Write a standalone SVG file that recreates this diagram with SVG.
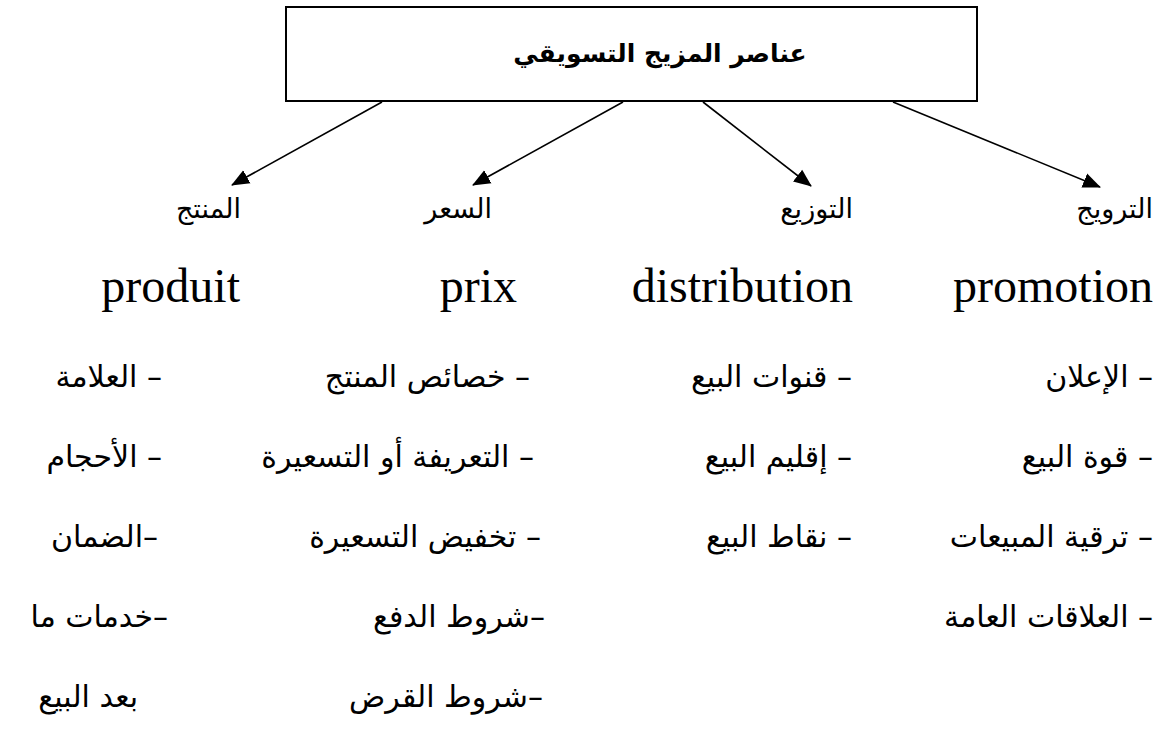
<svg xmlns="http://www.w3.org/2000/svg" width="1165" height="733" viewBox="0 0 1165 733">
<style>
.ar{font-family:"DejaVu Sans","Noto Sans",sans-serif;fill:#000}
.h{font-size:27px}
.li{font-size:30px}
.fr{font-family:"Liberation Serif",serif;font-size:48px;fill:#000}
.title{font-family:"DejaVu Sans",sans-serif;font-size:25px;font-weight:bold}
.edge{stroke:#000;stroke-width:1.6;fill:none}
</style>
<defs>
<marker id="ah" markerUnits="userSpaceOnUse" markerWidth="19" markerHeight="16" refX="17" refY="7.5" orient="auto" viewBox="0 0 19 15">
<path d="M0,0 L18,7.5 L0,15 Z" fill="#000"/>
</marker>
</defs>
<rect width="1165" height="733" fill="#fff"/>
<g id="root">
<rect x="286" y="7" width="691" height="94" fill="#fff" stroke="#000" stroke-width="2"/>
<text class="title" x="660" y="62" text-anchor="middle" direction="rtl">عناصر المزيج التسويقي</text>
</g>
<g id="connectors">
<line class="edge" x1="382" y1="102" x2="232" y2="185" marker-end="url(#ah)"/>
<line class="edge" x1="623" y1="102" x2="473" y2="185" marker-end="url(#ah)"/>
<line class="edge" x1="703" y1="102" x2="811" y2="186" marker-end="url(#ah)"/>
<line class="edge" x1="893" y1="102" x2="1100" y2="187" marker-end="url(#ah)"/>
</g>
<g id="node-produit">
<text class="ar h" x="241" y="218" direction="rtl" text-anchor="start">المنتج</text>
<text class="fr" x="240" y="302" text-anchor="end">produit</text>
<text class="ar li" x="162" y="387" direction="rtl" text-anchor="start">– العلامة</text>
<text class="ar li" x="162" y="467" direction="rtl" text-anchor="start">– الأحجام</text>
<text class="ar li" x="158" y="547" direction="rtl" text-anchor="start">–الضمان</text>
<text class="ar li" x="168" y="627" direction="rtl" text-anchor="start">–خدمات ما</text>
<text class="ar li" x="138" y="707" direction="rtl" text-anchor="start">بعد البيع</text>
</g>
<g id="node-prix">
<text class="ar h" x="492" y="218" direction="rtl" text-anchor="start">السعر</text>
<text class="fr" x="517" y="302" text-anchor="end">prix</text>
<text class="ar li" x="530" y="387" direction="rtl" text-anchor="start">– خصائص المنتج</text>
<text class="ar li" x="534" y="467" direction="rtl" text-anchor="start">– التعريفة أو التسعيرة</text>
<text class="ar li" x="541" y="547" direction="rtl" text-anchor="start">– تخفيض التسعيرة</text>
<text class="ar li" x="545" y="627" direction="rtl" text-anchor="start">–شروط الدفع</text>
<text class="ar li" x="543" y="707" direction="rtl" text-anchor="start">–شروط القرض</text>
</g>
<g id="node-distribution">
<text class="ar h" x="853" y="218" direction="rtl" text-anchor="start">التوزيع</text>
<text class="fr" x="853" y="302" text-anchor="end">distribution</text>
<text class="ar li" x="852" y="387" direction="rtl" text-anchor="start">– قنوات البيع</text>
<text class="ar li" x="852" y="467" direction="rtl" text-anchor="start">– إقليم البيع</text>
<text class="ar li" x="852" y="547" direction="rtl" text-anchor="start">– نقاط البيع</text>
</g>
<g id="node-promotion">
<text class="ar h" x="1153" y="218" direction="rtl" text-anchor="start">الترويج</text>
<text class="fr" x="1153" y="302" text-anchor="end">promotion</text>
<text class="ar li" x="1153" y="387" direction="rtl" text-anchor="start">– الإعلان</text>
<text class="ar li" x="1153" y="467" direction="rtl" text-anchor="start">– قوة البيع</text>
<text class="ar li" x="1153" y="547" direction="rtl" text-anchor="start">– ترقية المبيعات</text>
<text class="ar li" x="1153" y="627" direction="rtl" text-anchor="start">– العلاقات العامة</text>
</g>
</svg>
